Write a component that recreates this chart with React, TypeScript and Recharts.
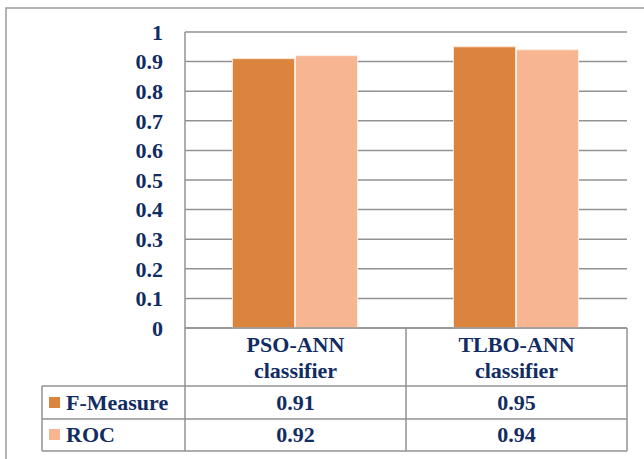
import { BarChart, Bar, XAxis, YAxis, CartesianGrid } from 'recharts'

const categories = ['PSO-ANN classifier', 'TLBO-ANN classifier']
const fMeasure = [0.91, 0.95]
const roc = [0.92, 0.94]
const yTicks = [0, 0.1, 0.2, 0.3, 0.4, 0.5, 0.6, 0.7, 0.8, 0.9, 1]
const seriesNames = ['F-Measure', 'ROC']

const W = 644
const H = 459
const PLOT_LEFT = 185
const PLOT_RIGHT = 627
const PLOT_TOP = 32
const PLOT_BOTTOM = 328
const TABLE_LEFT = 42
const ROW1 = 386
const ROW2 = 419
const ROW3 = 451

const NAVY = '#112c62'
const GRID = '#929292'
const DARK = '#db843d'
const LIGHT = '#f8b592'
const FONT = '"Liberation Serif", "Times New Roman", serif'

const data = categories.map((name, i) => ({ name, fMeasure: fMeasure[i], roc: roc[i] }))

function CategoryTick(props: any) {
  const { x, payload, index } = props
  const [line1, line2] = String(payload.value).split(' ')
  const txt = { fill: NAVY, fontSize: 22, fontWeight: 700, fontFamily: FONT, textAnchor: 'middle' as const }
  return (
    <g>
      <text x={x} y={352} {...txt}>{line1}</text>
      <text x={x} y={378} {...txt}>{line2}</text>
      <text x={x} y={410} {...txt}>{fMeasure[index].toFixed(2)}</text>
      <text x={x} y={442} {...txt}>{roc[index].toFixed(2)}</text>
    </g>
  )
}

function TableOverlay() {
  const colMid = (PLOT_LEFT + PLOT_RIGHT) / 2
  const txt = { fill: NAVY, fontSize: 22, fontWeight: 700, fontFamily: FONT }
  return (
    <svg
      width={W}
      height={H}
      style={{ position: 'absolute', left: 0, top: 0, pointerEvents: 'none' }}
    >
      <rect x={6} y={8} width={700} height={500} fill="none" stroke="#9a9a9a" strokeWidth={1.5} />
      <g stroke={GRID} strokeWidth={1.5}>
        <line x1={PLOT_LEFT} x2={PLOT_LEFT} y1={PLOT_BOTTOM} y2={ROW3} />
        <line x1={colMid} x2={colMid} y1={PLOT_BOTTOM} y2={ROW3} />
        <line x1={PLOT_RIGHT} x2={PLOT_RIGHT} y1={PLOT_BOTTOM} y2={ROW3} />
        <line x1={TABLE_LEFT} x2={TABLE_LEFT} y1={ROW1} y2={ROW3} />
        <line x1={TABLE_LEFT} x2={PLOT_RIGHT} y1={ROW1} y2={ROW1} />
        <line x1={TABLE_LEFT} x2={PLOT_RIGHT} y1={ROW2} y2={ROW2} />
        <line x1={TABLE_LEFT} x2={PLOT_RIGHT} y1={ROW3} y2={ROW3} />
      </g>
      <rect x={49} y={397} width={11} height={11} fill={DARK} />
      <text x={66} y={410} {...txt}>{seriesNames[0]}</text>
      <rect x={49} y={429} width={11} height={11} fill={LIGHT} />
      <text x={66} y={442} {...txt}>{seriesNames[1]}</text>
    </svg>
  )
}

export default function App() {
  return (
    <div style={{ position: 'fixed', left: 0, top: 0, width: W, height: H, background: '#fff' }}>
      <BarChart
        width={W}
        height={H}
        data={data}
        margin={{ top: PLOT_TOP, right: W - PLOT_RIGHT, left: 0, bottom: 0 }}
        barCategoryGap="21.5%"
        barGap={1}
      >
        <CartesianGrid vertical={false} stroke={GRID} strokeWidth={1.5} />
        <YAxis
          width={PLOT_LEFT}
          domain={[0, 1]}
          ticks={yTicks}
          interval={0}
          tickLine={false}
          tickSize={0}
          tickMargin={22}
          axisLine={{ stroke: GRID, strokeWidth: 1.5 }}
          tick={{ fill: NAVY, fontSize: 22, fontWeight: 700, fontFamily: FONT }}
        />
        <XAxis
          dataKey="name"
          height={H - PLOT_BOTTOM}
          interval={0}
          tickLine={false}
          axisLine={{ stroke: GRID, strokeWidth: 1.5 }}
          tick={<CategoryTick />}
        />
        <Bar dataKey="fMeasure" name="F-Measure" fill={DARK} stroke="#fbe3d3" strokeWidth={1} isAnimationActive={false} />
        <Bar dataKey="roc" name="ROC" fill={LIGHT} stroke="#fdeee4" strokeWidth={1} isAnimationActive={false} />
      </BarChart>
      <TableOverlay />
    </div>
  )
}
